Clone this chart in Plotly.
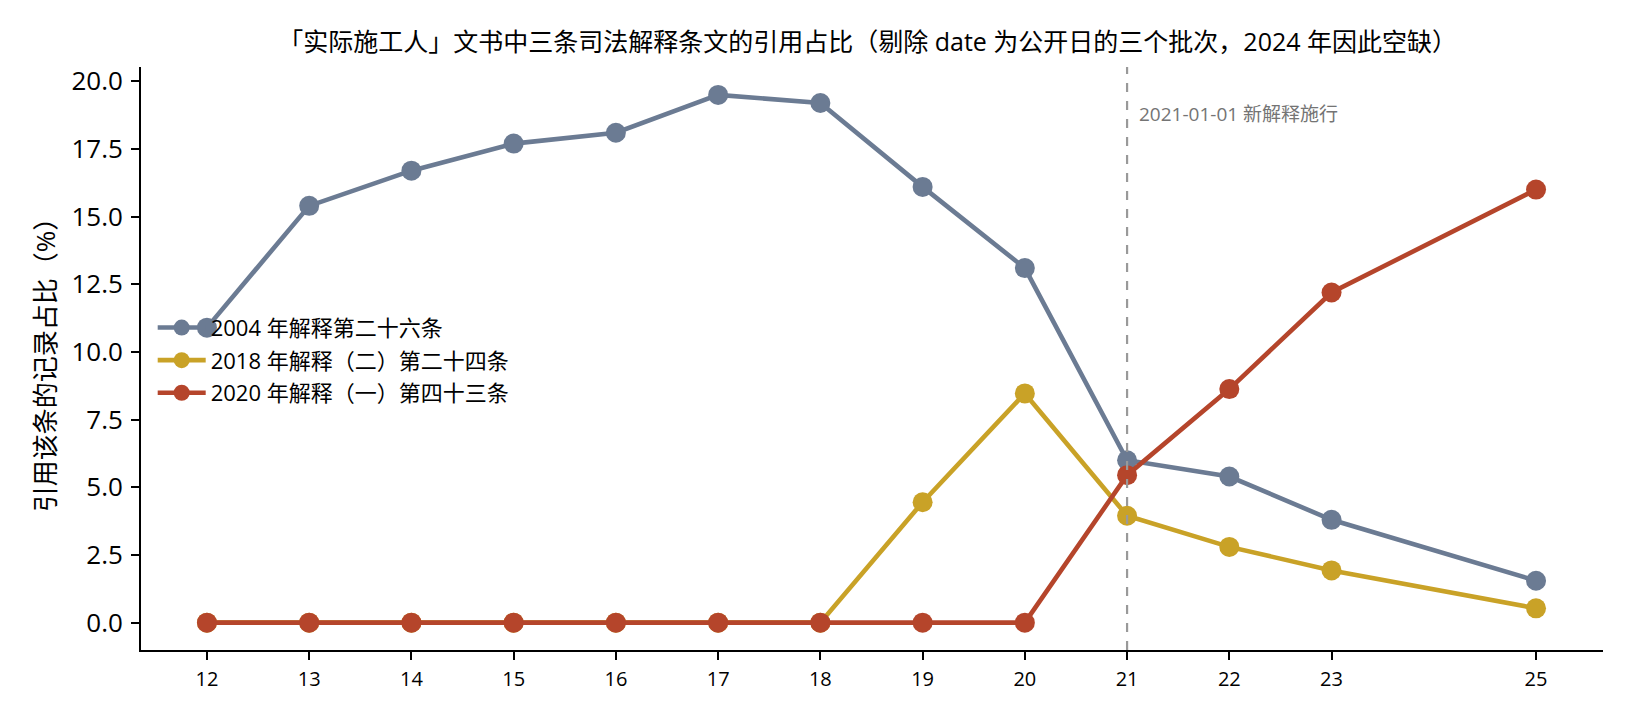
import plotly.graph_objects as go

years = [12, 13, 14, 15, 16, 17, 18, 19, 20, 21, 22, 23, 25]
tick_labels = ["12", "13", "14", "15", "16", "17", "18", "19", "20", "21", "22", "23", "25"]
series_names = ["2004 年解释第二十六条", "2018 年解释（二）第二十四条", "2020 年解释（一）第四十三条"]
art26_2004 = [10.9, 15.4, 16.7, 17.7, 18.1, 19.5, 19.2, 16.1, 13.1, 6.0, 5.4, 3.8, 1.55]
art24_2018 = [0, 0, 0, 0, 0, 0, 0, 4.45, 8.47, 3.95, 2.8, 1.93, 0.53]
art43_2020 = [0, 0, 0, 0, 0, 0, 0, 0, 0, 5.45, 8.63, 12.2, 16.0]
y_ticks = [0, 2.5, 5, 7.5, 10, 12.5, 15, 17.5, 20]
y_tick_labels = ["0.0", "2.5", "5.0", "7.5", "10.0", "12.5", "15.0", "17.5", "20.0"]
colors = ["#6b7b93", "#c9a227", "#b5452b"]

FONT = "Open Sans, Noto Sans CJK SC"

W, H = 1616, 704
L, R, T, B = 133, 1595, 59, 642

fig = go.Figure()
for i, (name, vals) in enumerate(zip(series_names, [art26_2004, art24_2018, art43_2020])):
    fig.add_trace(go.Scatter(
        x=years, y=vals, name=name, mode="lines+markers",
        line=dict(color=colors[i], width=4.6),
        marker=dict(color=colors[i], size=20),
        legendgroup=f"g{i}",
    ))

fig.add_vline(x=21, line=dict(color="#999999", width=2.2, dash="dash"))
fig.add_annotation(x=21, y=18.8, xref="x", yref="y", text="2021-01-01 新解释施行",
                   showarrow=False, xanchor="left", xshift=10,
                   font=dict(family=FONT, size=19, color="#747474"))

fig.update_layout(
    width=W, height=H,
    paper_bgcolor="white", plot_bgcolor="white",
    margin=dict(l=L, r=W - R, t=T, b=H - B, pad=0, autoexpand=False),
    font=dict(family=FONT, color="black"),
    title=dict(text="「实际施工人」文书中三条司法解释条文的引用占比（剔除 date 为公开日的三个批次，2024 年因此空缺）",
               xref="paper", x=0.497, xanchor="center",
               yref="container", y=1 - 34 / H, yanchor="middle",
               font=dict(family=FONT, size=25, color="black")),
    legend=dict(x=0.008, y=0.497, xanchor="left", yanchor="middle",
                bgcolor="rgba(255,255,255,0)", font=dict(family=FONT, size=22),
                tracegroupgap=1, itemwidth=48),
    showlegend=True,
)
fig.update_xaxes(range=[11.355, 25.655], tickvals=years, ticktext=tick_labels, automargin=False,
                 showline=True, linecolor="black", linewidth=1.8, showgrid=False,
                 zeroline=False, ticks="outside", ticklen=8, tickwidth=1.8, tickcolor="black",
                 ticklabelstandoff=2,
                 tickfont=dict(family=FONT, size=20))
fig.update_yaxes(range=[-1.01, 20.53], tickvals=y_ticks, ticktext=y_tick_labels, automargin=False,
                 showline=True, linecolor="black", linewidth=1.8, showgrid=False,
                 zeroline=False, ticks="outside", ticklen=8, tickwidth=1.8, tickcolor="black",
                 ticklabelstandoff=3,
                 tickfont=dict(family=FONT, size=26),
                 title=dict(text="引用该条的记录占比（%）", font=dict(family=FONT, size=26), standoff=8))

fig.write_html("out.html")
